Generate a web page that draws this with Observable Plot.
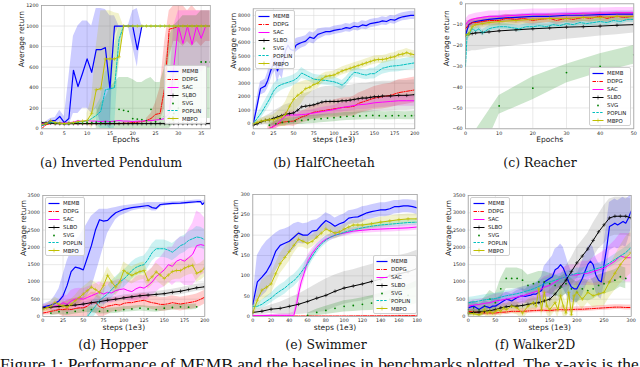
<!DOCTYPE html>
<html><head><meta charset="utf-8">
<script src="https://cdn.jsdelivr.net/npm/d3@7"></script>
<script src="https://cdn.jsdelivr.net/npm/@observablehq/plot@0.6"></script>
<style>
body{margin:0;width:640px;height:367px;overflow:hidden;background:#fff;position:relative;font-family:"DejaVu Sans",sans-serif}
.panel{position:absolute}
.cap{position:absolute;font-family:"DejaVu Serif",serif;font-size:12.5px;line-height:12.5px;transform:translateX(-50%);white-space:nowrap;color:#111}
.fig{position:absolute;left:0;top:356px;font-family:"Liberation Serif",serif;font-size:17.4px;line-height:17.4px;white-space:nowrap;color:#111}
.leg{position:absolute;background:rgba(255,255,255,0.85);border:0.6px solid #cfcfcf;border-radius:2px;box-sizing:border-box;padding-top:1.5px}
.row{height:7.9px;display:flex;align-items:center;font-size:5.4px;color:#222}
.row svg{margin-left:1.5px;margin-right:3.5px;flex:none}
</style>
</head><body>
<script>
// ---------- series names, colours ----------
const NAMES = ["MEMB","DDPG","SAC","SLBO","SVG","POPLIN","MBPO"];
const COLORS = {MEMB:"#0000ff",DDPG:"#ff0000",SAC:"#ff00ff",SLBO:"#000000",SVG:"#008000",POPLIN:"#00bfbf",MBPO:"#bfbf00"};
const DASH = {DDPG:"3.5,1.2,1,1.2",POPLIN:"2.5,1.3"};

// ---------- (a) Inverted Pendulum : [epoch, mean, lo, hi] or [x, mean, spread] ----------
const IP_XTICKS = [0,5,10,15,20,25,30,35];
const IP_YTICKS = [0,200,400,600,800,1000,1200];
const IP_MEMB = [[0,30,20,40],[1,50,30,70],[2,80,50,100],[3,80,40,110],[4,120,70,180],[5,60,30,120],[6,100,30,500],[7,570,150,900],[8,410,150,1000],[9,540,200,1050],[10,680,200,1050],[11,550,150,1000],[12,770,200,1170],[13,770,50,1170],[14,790,50,1160],[15,390,0,1100],[16,1000,900,1100],[17,1000,1000,1000],[18,1000,1000,1000],[19,1000,1000,1000],[20,1000,800,1150],[21,770,600,1170],[22,1000,1000,1000]];
const IP_DDPG = [[0,0],[1,40],[2,50],[3,50],[4,50],[5,50],[6,50],[7,50],[8,50],[9,50],[10,50],[11,50],[12,50],[13,50],[14,50],[15,50],[16,50],[17,50],[18,55],[19,55],[20,60],[21,65],[22,70],[23,80,60,100],[24,100,60,150],[25,140,80,250],[26,150,80,400],[27,400,200,850],[28,970,700,1150],[29,980,850,1200],[30,1000,850,1200],[31,1000,800,1200],[32,1000,850,1150],[33,1000,800,1200],[34,1000,850,1150],[35,1000,800,1150],[36,1000,850,1150],[37,1000,850,1150]];
const IP_SAC = [[0,50],[1,55],[2,55],[3,60],[4,60],[5,55],[6,60],[7,65],[8,80,60,100],[9,70],[10,80],[11,75],[12,75],[13,70],[14,75],[15,70],[16,75],[17,80],[18,75],[19,75],[20,70],[21,75],[22,75],[23,80],[24,80],[25,85],[26,90],[27,100,60,150],[28,150,80,400],[29,600,300,1000],[30,1000,600,1150],[31,830,500,1150],[32,1000,600,1150],[33,820,500,1150],[34,1000,600,1150],[35,880,550,1150],[36,1000,600,1150],[37,1000,600,1150]];
const IP_SLBO = [[0,60,12],[1,55,10],[2,55,10],[3,50,10],[4,50,10],[5,50,10],[6,50,10],[7,50,10],[8,50,10],[9,50,10],[10,50,10],[11,50,10],[12,50,10],[13,50,10],[14,50,10],[15,50,10],[16,50,10],[17,50,10],[18,50,10],[19,50,10],[20,50,10],[21,50,10],[22,50,10],[23,50,10],[24,50,10],[25,50,10],[26,50,10],[27,50,10],[28,50,10],[29,50,10],[30,50,10],[31,50,10],[32,50,10],[33,50,10],[34,50,10],[35,50,10],[36,50,10],[37,50,10]];
const IP_SVG = [[0,40],[1,50],[2,60],[3,55],[4,50],[5,45],[6,50],[7,55],[8,60],[9,55],[10,60],[11,60],[12,65,0,150],[13,60,0,250],[14,70,0,300],[15,65,0,400],[16,70,0,450],[17,190,0,500],[18,180,0,500],[19,170,0,500],[20,100,0,480],[21,95,0,450],[22,90,0,450],[23,80,0,480],[24,190,0,500],[25,70,0,450],[26,100,0,450],[27,120,0,600],[28,110,0,900],[29,150,50,1000],[30,200,100,1050],[31,250,100,1100],[32,300,100,1100],[33,400,100,1100],[34,500,100,1100],[35,650,100,1150],[36,650,100,1150],[37,650,100,1150]];
const IP_POPLIN = [[0,30],[1,50],[2,60],[3,60],[4,55],[5,50],[6,55],[7,60],[8,65],[9,70],[10,75],[11,100,50,150],[12,130,50,220],[13,170,0,300],[14,380,0,550],[15,390,0,600],[16,400,0,800],[17,870,700,1000],[18,1000,1000,1000],[19,1000],[20,1000],[21,1000],[22,1000],[23,1000],[24,1000],[25,1000],[26,1000],[27,1000],[28,1000],[29,1000],[30,1000],[31,1000],[32,1000],[33,1000],[34,1000],[35,1000],[36,1000],[37,1000]];
const IP_MBPO = [[0,40],[1,50],[2,80],[3,60],[4,55],[5,50],[6,55],[7,60],[8,70],[9,75],[10,80,50,150],[11,150,0,300],[12,380,100,800],[13,390,200,1150],[14,680,400,1150],[15,680,400,1150],[16,680,400,1130],[17,700,600,1120],[18,1000,1000,1000],[19,1000],[20,1000],[21,1000],[22,1000],[23,1000],[24,1000],[25,1000],[26,1000],[27,1000],[28,1000],[29,1000],[30,1000],[31,1000],[32,1000],[33,1000],[34,1000],[35,1000],[36,1000],[37,1000]];

// ---------- (b) HalfCheetah ----------
const HC_XTICKS = [0,25,50,75,100,125,150,175,200];
const HC_YTICKS = [0,1000,2000,3000,4000,5000,6000,7000,8000];
const HC_MEMB = [[0,0,200],[3,800,500],[6,1700,600],[9,2600,500],[12,2700,500],[15,2800,500],[18,3200,600],[21,3800,700],[24,4300,700],[27,4600,700],[30,3900,900],[33,4400,800],[36,4200,900],[40,5400,700],[43,5800,600],[46,5500,600],[50,5400,500],[53,5800,500],[56,5900,450],[60,6000,400],[65,6100,400],[70,6400,400],[75,6300,400],[80,6600,400],[85,6700,350],[90,6800,300],[95,6800,300],[100,6900,300],[105,6950,300],[110,7000,300],[115,7100,300],[120,7050,300],[125,7200,300],[130,7150,300],[135,7300,300],[140,7250,300],[145,7400,300],[150,7450,300],[155,7500,300],[160,7600,300],[165,7550,300],[170,7700,300],[175,7650,300],[180,7800,300],[185,7900,300],[190,7950,300],[195,8000,300],[200,8000,300]];
const HC_DDPG = [[18,-380,200],[22,-300,250],[26,-150,300],[30,0,300],[35,100,300],[40,150,350],[45,180,350],[50,200,400],[55,350,400],[60,500,450],[65,600,450],[70,750,500],[75,850,500],[80,900,550],[85,950,550],[90,1000,600],[95,1050,600],[100,1100,650],[110,1200,700],[120,1250,700],[125,1300,750],[130,1500,750],[140,1700,800],[150,1900,850],[160,2000,900],[170,2100,900],[180,2300,950],[190,2400,950],[200,2500,950]];
const HC_SAC = [[20,-380,200],[25,-200,250],[30,0,300],[35,300,300],[40,600,300],[45,650,250],[50,650,250],[55,650,250],[60,680,250],[65,700,250],[70,750,250],[75,800,250],[80,850,300],[90,950,300],[100,1050,300],[110,1200,350],[120,1300,350],[130,1400,350],[140,1450,400],[150,1550,400],[160,1600,400],[170,1650,400],[180,1700,400],[190,1700,400],[200,1700,400]];
const HC_SLBO = [[0,-100,100],[5,0,150],[10,150,250],[15,250,300],[20,300,400],[25,400,500],[30,500,600],[35,600,650],[40,700,700],[45,750,750],[50,800,800],[55,1000,850],[60,1250,900],[65,1300,950],[70,1350,1000],[75,1400,1050],[80,1500,1100],[85,1600,1100],[90,1650,1100],[95,1650,1100],[100,1650,1100],[105,1650,1100],[110,1700,1100],[115,1700,1100],[120,1750,1100],[125,1800,1100],[130,1850,1100],[135,1900,1100],[140,1900,1100],[145,1950,1100],[150,2000,1100],[155,2000,1100],[160,2050,1100],[170,2050,1100],[180,2100,1100],[190,2100,1100],[200,2150,1100]];
const HC_SVG = [[20,-100,200],[28,0,200],[36,100,250],[44,150,250],[52,200,250],[60,250,300],[68,300,300],[76,330,300],[84,380,300],[92,420,300],[100,450,300],[108,500,300],[116,550,300],[124,560,300],[132,580,300],[140,600,300],[148,620,300],[156,600,300],[164,580,300],[172,600,300],[180,610,300],[188,590,300],[196,600,300],[200,620,300]];
const HC_POPLIN = [[0,0,100],[5,400,300],[10,800,400],[15,1300,450],[20,1800,500],[25,2400,500],[30,2750,500],[35,2900,450],[40,3000,400],[45,3100,400],[50,3200,400],[55,3400,400],[60,3750,400],[65,3600,350],[70,3450,350],[75,3300,350],[80,3250,350],[90,3200,350],[100,3100,350],[105,3000,350],[110,2850,350],[115,3100,350],[120,3500,350],[125,3800,350],[130,3750,350],[135,3650,350],[140,3600,350],[145,3700,400],[150,3700,400],[155,3900,400],[160,4100,450],[170,4250,450],[180,4300,450],[190,4400,450],[200,4500,450]];
const HC_MBPO = [[0,0,100],[5,100,150],[10,200,200],[15,250,250],[20,300,300],[25,300,350],[30,400,500],[35,500,700],[40,700,900],[45,1300,1000],[50,1800,1000],[55,2100,900],[60,2300,800],[65,2600,600],[70,2700,500],[75,2900,400],[80,3000,400],[85,3300,350],[90,3500,300],[95,3550,300],[100,3600,300],[105,3750,300],[110,3900,300],[115,4000,300],[120,4100,300],[125,4200,300],[130,4300,300],[135,4400,300],[140,4500,300],[145,4600,300],[150,4700,300],[155,4750,300],[160,4750,300],[165,4800,300],[170,4900,300],[175,4950,300],[180,5100,300],[185,5150,300],[190,5250,300],[195,5150,300],[200,5100,300]];

// ---------- (c) Reacher ----------
const RE_XTICKS = [0,10,20,30,40,50];
const RE_YTICKS = [-60,-50,-40,-30,-20,-10,0];
const RE_MEMB = [[0,-15,2],[1,-10,2],[2,-9,1.5],[3,-8.5,1.5],[5,-8,1.5],[7,-7.5,1.5],[10,-7,1.5],[15,-6.5,1.5],[20,-6,1.5],[25,-6,1.5],[30,-5.5,1.5],[35,-5.5,1.5],[40,-5.2,1.5],[45,-5,1.5],[50,-5,1.5]];
const RE_DDPG = [[0,-12,2],[1,-10,2],[2,-9,2],[3,-9,2],[5,-8.5,2],[7,-8,2],[10,-8,2],[12,-7,2],[15,-7.5,2],[17,-7,2],[20,-8,2],[22,-7.5,2],[25,-7,2],[27,-8,2],[30,-7,2],[32,-7.5,2],[35,-6.5,2],[37,-7,2],[40,-6,2],[42,-7,2],[45,-6,2],[47,-6.5,2],[50,-6,2]];
const RE_SAC = [[0,-10,2.5],[1,-8,2.5],[2,-7.5,2.5],[3,-7,2.5],[5,-6.5,2.5],[7,-6,2.5],[10,-6,2.5],[15,-5.5,2.5],[20,-5,2.5],[25,-5,2.5],[30,-4.8,2.5],[35,-4.5,2.5],[40,-4.5,2.5],[45,-4.3,2.5],[50,-4.3,2.5]];
const RE_SLBO = [[0,-15,-23,-8],[1,-14.5,-23,-8],[2,-14.3,-22.5,-8],[3,-14,-22.5,-8],[5,-13.8,-22,-8],[7,-13.5,-21.5,-8],[10,-13,-21,-7.5],[15,-12.5,-20,-7.5],[20,-12,-19,-7],[25,-11.6,-18,-7],[30,-11.2,-17,-7],[35,-11,-16.3,-6.5],[40,-10.7,-15.5,-6.5],[45,-10.3,-14.8,-6],[50,-10,-14,-6]];
const RE_SVG = [[0,-75,-90,-68],[10,-49,-53,-44],[20,-40.5,-46,-35],[30,-33,-38,-29],[40,-30,-33,-24],[50,-24.5,-29,-20]];
const RE_POPLIN = [[0,-30,2],[0.5,-14,1.5],[1,-15,1.5],[2,-12,1.5],[3,-13,1.5],[4,-12,1.5],[5,-14,1.5],[6,-13,1.5],[7,-12,1.5],[8,-11.5,1.5],[10,-11,1.5],[12,-11,1.5],[14,-11.5,1.5],[16,-12,1.5],[18,-11,1.5],[20,-11,1.5],[22,-10.5,1.5],[24,-11,1.5],[26,-10,1.5],[28,-10.5,1.5],[30,-9.5,1.5],[32,-10,1.5],[34,-9,1.5],[36,-9.5,1.5],[38,-9,1.5],[40,-8.5,1.5],[42,-9,1.5],[44,-8,1.5],[46,-8.5,1.5],[48,-7.5,1.5],[50,-7.5,1.5]];
const RE_MBPO = [[0,-15,2],[1,-14.5,2],[2,-11,2],[3,-10,2],[5,-9.5,2],[7,-9,2],[10,-8.5,2],[15,-8,2],[20,-7.5,2],[25,-7,2],[30,-7,2],[35,-6.5,2],[40,-6.5,2],[45,-6,2],[50,-6,2]];

// ---------- (d) Hopper ----------
const HO_XTICKS = [0,25,50,75,100,125,150,175,200];
const HO_YTICKS = [0,500,1000,1500,2000,2500,3000,3500];
const HO_MEMB = [[0,270,200,350],[5,300,220,400],[10,330,250,450],[15,380,250,600],[20,450,250,800],[25,600,300,1200],[30,900,300,1600],[35,1300,300,1900],[40,1430,350,2200],[45,1400,400,2300],[50,1350,500,2500],[55,1700,600,2700],[60,2050,800,2900],[65,2500,1200,3000],[70,2800,1600,3100],[75,2760,2000,3100],[80,2780,2400,3100],[85,2900,2600,3130],[90,3000,2800,3150],[95,3050,2900,3180],[100,3100,2950,3200],[110,3150,3050,3230],[120,3180,3100,3260],[130,3210,3100,3300],[135,3150,3050,3300],[140,3130,3050,3300],[145,3240,3150,3300],[150,3250,3200,3300],[160,3270,3220,3320],[170,3280,3230,3330],[180,3300,3250,3350],[190,3320,3270,3370],[195,3320,3270,3370],[197,3240,3200,3350],[200,3310,3250,3370]];
const HO_DDPG = [[0,100,60],[5,120,80],[10,150,100],[15,170,120],[20,200,150],[25,200,200],[30,220,250],[35,200,300],[40,230,300],[45,250,300],[50,250,300],[55,300,300],[60,400,300],[65,400,300],[70,280,300],[75,250,250],[80,300,250],[85,320,200],[90,350,200],[95,330,200],[100,380,200],[105,400,200],[110,400,200],[115,430,200],[120,450,200],[125,470,200],[130,430,200],[135,400,200],[140,380,200],[145,350,200],[150,350,200],[155,370,200],[160,400,200],[165,380,200],[170,360,200],[175,380,200],[180,400,200],[185,420,200],[190,450,200],[195,500,200],[200,560,200]];
const HO_SAC = [[0,250,80],[10,280,100],[20,320,150],[25,400,250],[30,350,250],[35,450,300],[40,500,300],[45,520,300],[50,500,300],[55,550,300],[60,600,300],[65,650,300],[70,700,300],[75,650,300],[80,700,300],[85,680,300],[90,750,300],[95,780,300],[100,800,300],[105,750,300],[110,720,300],[115,800,350],[120,850,350],[125,820,350],[130,900,400],[135,1000,400],[140,1150,450],[145,1250,450],[150,1350,500],[155,1500,500],[160,1450,550],[165,1600,600],[170,1650,650],[175,1600,700],[180,1700,800],[185,1800,900],[190,2050,1000],[195,2080,900],[200,2050,800]];
const HO_SLBO = [[0,250,50],[10,270,50],[20,290,50],[30,310,60],[40,330,60],[50,360,60],[60,400,70],[70,430,70],[80,470,70],[90,500,80],[100,540,80],[110,570,80],[120,600,80],[130,620,80],[140,640,80],[150,660,90],[160,700,90],[170,730,100],[180,780,100],[190,830,100],[200,860,100]];
const HO_SVG = [[10,100,80],[20,140,80],[30,110,80],[40,150,80],[50,180,80],[60,200,80],[70,150,80],[80,160,80],[90,170,80],[100,200,80],[110,220,80],[120,240,80],[130,220,80],[140,200,80],[150,240,80],[160,260,80],[170,280,80],[180,270,80],[190,280,80]];
const HO_POPLIN = [[55,0,200],[60,150,250],[65,300,250],[70,460,250],[75,560,250],[80,650,250],[85,780,250],[90,900,250],[95,1000,250],[100,1080,250],[105,1200,250],[110,1330,250],[115,1420,250],[120,1470,250],[125,1500,250],[130,1650,250],[135,1850,250],[140,1960,250],[145,1960,250],[150,1960,250],[155,1920,250],[160,1860,250],[165,1950,250],[170,2050,250],[175,2100,250],[180,2200,250],[185,2250,250],[190,2300,300],[195,2280,300],[200,2220,300]];
const HO_MBPO = [[0,200,80],[5,250,100],[10,300,150],[15,410,150],[20,350,150],[25,300,150],[30,270,150],[35,350,150],[40,460,150],[45,550,200],[50,650,200],[55,750,200],[60,850,200],[65,780,200],[70,700,200],[75,900,250],[80,1190,250],[85,1000,250],[90,850,250],[95,1000,250],[100,1330,250],[105,1250,250],[110,1190,250],[115,1250,250],[120,1300,250],[125,1330,250],[130,1040,250],[135,1150,250],[140,1290,250],[145,1200,250],[150,1100,250],[155,1200,250],[160,1300,250],[165,1330,250],[170,1330,250],[175,1400,250],[180,1450,250],[185,1480,250],[190,1250,250],[195,1300,250],[200,1400,250]];

// ---------- (e) Swimmer ----------
const SW_XTICKS = [0,20,40,60,80,100,120,140,160,180];
const SW_YTICKS = [0,50,100,150,200,250,300];
const SW_MEMB = [[0,30,20,45],[5,85,40,150],[10,97,50,170],[15,110,60,185],[20,130,80,195],[25,160,110,205],[30,175,130,212],[35,180,145,215],[40,185,155,220],[45,195,165,228],[50,205,180,232],[55,200,178,228],[60,200,180,230],[65,210,188,236],[70,212,190,238],[75,225,205,245],[80,236,215,255],[85,230,210,250],[90,222,205,242],[95,228,210,248],[100,232,215,252],[105,242,225,260],[110,244,228,262],[115,245,228,265],[120,250,232,270],[125,255,238,272],[130,258,240,275],[135,260,243,277],[140,262,245,280],[145,262,245,280],[150,265,248,282],[155,270,252,285],[160,270,253,285],[165,272,255,287],[170,272,255,287],[175,270,254,286],[180,267,250,284]];
const SW_DDPG = [[0,1,1],[20,1,1],[40,1,1],[60,1,1],[80,1,1],[100,1,1],[120,1.5,1],[140,1.5,1],[160,2,1],[180,2,1]];
const SW_SAC = [[0,2,2],[10,2,2],[20,3,2],[30,3,3],[40,3,4],[45,3,8],[48,30,15],[50,55,20],[53,85,20],[56,105,20],[60,135,15],[65,155,12],[70,170,10],[75,182,8],[80,190,8],[85,195,8],[90,200,8],[95,203,8],[100,205,8],[110,210,8],[120,212,8],[130,214,8],[140,215,8],[150,216,8],[160,217,8],[170,218,8],[180,220,8]];
const SW_SLBO = [[0,10,5],[10,13,8],[20,18,10],[30,20,15],[40,25,20],[50,30,25],[60,37,30],[70,45,35],[80,52,40],[90,62,40],[100,70,40],[110,75,40],[120,80,42],[130,86,42],[140,92,44],[150,100,45],[160,105,45],[170,110,45],[180,118,45]];
const SW_SVG = [[60,3,5],[70,10,8],[80,15,10],[90,20,12],[100,25,14],[110,27,15],[120,30,16],[130,33,18],[140,37,20],[150,42,22],[160,47,24],[170,52,26],[180,60,28]];
const SW_POPLIN = [[0,25,8],[5,25,8],[10,30,10],[15,38,12],[20,45,12],[25,55,14],[30,63,15],[35,70,15],[40,80,15],[45,88,15],[50,100,15],[55,115,15],[60,130,15],[65,148,12],[70,165,12],[75,178,10],[80,188,10],[85,195,8],[90,200,8],[95,203,8],[100,207,8],[110,213,8],[120,218,8],[130,222,8],[140,225,8],[150,227,8],[160,229,8],[170,231,8],[180,232,8]];
const SW_MBPO = [[0,10,10],[5,40,20],[10,65,25],[15,72,25],[20,80,25],[25,105,25],[30,130,25],[35,145,25],[40,160,25],[45,175,20],[50,190,20],[55,185,15],[60,180,15],[65,185,15],[70,195,15],[75,205,15],[80,215,15],[85,210,15],[90,205,15],[95,208,12],[100,215,12],[105,220,12],[110,225,12],[115,225,12],[120,225,12],[130,228,12],[140,232,12],[150,235,12],[160,238,12],[170,240,12],[180,240,12]];

// ---------- (f) Walker2D ----------
const WA_XTICKS = [0,50,100,150,200,250,300];
const WA_YTICKS = [0,500,1000,1500,2000,2500,3000,3500];
const WA_MEMB = [[0,250,150],[5,280,150],[10,300,150],[15,250,150],[20,200,150],[25,250,150],[30,300,150],[35,280,150],[40,250,150],[45,300,200],[50,300,200],[55,350,200],[60,400,200],[65,450,200],[70,500,200],[75,480,200],[80,450,200],[85,500,200],[90,550,200],[95,580,200],[100,600,200],[105,580,200],[110,600,250],[115,620,250],[120,650,250],[125,650,300],[130,700,350],[135,750,400],[140,1000,450],[145,1050,500],[150,1100,550],[155,1150,600],[160,1350,600],[165,1400,600],[170,1500,600],[175,1400,600],[180,1200,550],[185,1000,500],[190,850,450],[195,800,400],[200,800,400],[205,950,450],[210,1100,500],[215,1300,500],[220,1500,500],[225,1600,500],[230,1500,500],[235,1200,500],[240,1050,500],[245,1000,500],[250,1500,600],[255,2000,700],[260,2600,700],[265,2650,700],[270,2700,700],[275,2650,700],[280,2700,700],[285,2750,700],[290,2700,700],[295,2850,600],[300,3050,500]];
const WA_DDPG = [[0,150,70],[10,130,70],[20,120,70],[30,100,70],[40,100,70],[50,100,70],[60,120,70],[70,130,70],[80,150,70],[90,150,70],[100,150,70],[110,160,70],[120,170,70],[130,180,70],[140,180,70],[150,170,70],[160,190,70],[170,200,70],[180,190,70],[190,200,70],[200,210,70],[210,210,70],[220,220,70],[230,230,70],[240,240,70],[250,250,70],[260,260,70],[270,270,70],[280,270,70],[290,260,70],[300,260,70]];
const WA_SAC = [[0,300,150],[10,330,150],[20,350,150],[30,380,150],[40,400,200],[50,450,200],[60,470,200],[70,500,200],[80,530,200],[90,560,250],[100,600,250],[110,650,250],[120,700,250],[130,750,250],[140,850,300],[150,900,300],[160,1000,300],[170,1100,300],[180,1150,300],[190,1200,300],[200,1200,300],[210,1250,350],[220,1250,350],[230,1300,400],[240,1350,450],[250,1400,500],[260,1500,550],[270,1600,600],[280,1750,650],[290,1700,700],[300,1700,700]];
const WA_SLBO = [[0,100,80],[10,120,80],[20,130,80],[30,150,80],[40,170,80],[50,200,100],[60,250,100],[70,280,100],[80,300,100],[90,300,100],[100,320,120],[110,350,120],[120,380,150],[130,400,150],[140,450,200],[150,500,250],[160,650,300],[170,850,350],[180,1050,400],[190,1300,400],[200,1550,450],[210,1750,450],[220,1950,450],[230,2200,500],[240,2450,500],[250,2650,550],[260,2850,550],[270,2900,550],[280,2900,550],[290,2900,550],[300,2850,550]];
const WA_SVG = [[0,200,200],[10,250,200],[20,200,200],[30,300,250],[40,500,250],[50,400,250],[60,800,300],[70,1100,300],[80,1100,300],[90,1100,300],[100,1050,300],[110,900,300],[120,950,300],[130,1000,300],[140,1000,300],[150,950,300],[160,900,300],[170,850,300],[180,950,300],[190,800,300],[200,700,300],[210,800,300],[220,750,300],[230,800,300],[240,900,300],[250,950,300],[260,1000,300],[270,1050,300],[280,1150,300],[290,1100,300]];
const WA_POPLIN = [[0,400,150],[10,420,150],[20,450,150],[30,480,150],[40,500,150],[50,520,150],[60,560,150],[70,600,150],[80,630,150],[90,660,150],[100,700,150],[110,750,150],[120,800,150],[130,870,150],[140,950,150],[150,1000,150],[160,1050,150],[170,1100,150],[180,1150,150],[190,1200,150],[200,1250,150],[210,1250,150],[220,1300,150],[230,1350,150],[240,1400,150],[250,1450,150],[260,1550,150],[270,1650,150],[280,1750,150],[290,1850,150],[300,2000,150]];
const WA_MBPO = [[0,100,100],[10,80,100],[20,50,100],[25,100,100],[30,200,150],[35,100,150],[40,150,150],[45,100,150],[50,150,150],[55,200,150],[60,150,150],[65,250,150],[70,200,150],[80,300,200],[90,250,200],[100,100,200],[110,300,200],[120,400,200],[125,300,200],[130,800,250],[135,200,250],[140,700,250],[145,300,250],[150,200,250],[160,400,250],[165,200,250],[170,600,300],[175,300,300],[180,100,300],[185,700,300],[190,50,300],[195,600,300],[200,700,300],[210,500,300],[220,700,300],[230,600,350],[240,650,350],[250,700,400],[260,1000,450],[270,1250,500],[280,1500,550],[290,1700,600],[300,1850,600]];

// ---------- text ----------
const CAPTIONS = ["(a) Inverted Pendulum","(b) HalfCheetah","(c) Reacher","(d) Hopper","(e) Swimmer","(f) Walker2D"];
const FIG_TEXT = "Figure 1:  Performance of MEMB and the baselines in benchmarks plotted.  The x-axis is the";

// ---------- layout ----------
const PANELS = [
 {left:0,top:0,width:213,height:150,mt:5,mb:21.7,ml:41,mr:3.2,xd:[0,37],yd:[0,1200],xt:IP_XTICKS,yt:IP_YTICKS,xl:"Epochs",xdy:13.5,ydx:-20,
  S:{MEMB:IP_MEMB,DDPG:IP_DDPG,SAC:IP_SAC,SLBO:IP_SLBO,SVG:IP_SVG,POPLIN:IP_POPLIN,MBPO:IP_MBPO},cap:[111,157],leg:[164,65,43]},
 {left:213,top:0,width:209,height:150,mt:8.3,mb:21.7,ml:39.7,mr:7.7,xd:[0,200],yd:[-370,8490],xt:HC_XTICKS,yt:HC_YTICKS,xl:"steps (1e3)",xdy:13.5,ydx:-20,
  S:{MEMB:HC_MEMB,DDPG:HC_DDPG,SAC:HC_SAC,SLBO:HC_SLBO,SVG:HC_SVG,POPLIN:HC_POPLIN,MBPO:HC_MBPO},cap:[324,157],leg:[255,10,40]},
 {left:422,top:0,width:218,height:150,mt:3.3,mb:21.7,ml:43,mr:6.7,xd:[0,50],yd:[-60,0],xt:RE_XTICKS,yt:RE_YTICKS,xl:"Epochs",xdy:13.5,ydx:-18.5,
  S:{MEMB:RE_MEMB,DDPG:RE_DDPG,SAC:RE_SAC,SLBO:RE_SLBO,SVG:RE_SVG,POPLIN:RE_POPLIN,MBPO:RE_MBPO},cap:[540,157],leg:[589,67,42]},
 {left:0,top:185,width:213,height:150,mt:10,mb:19,ml:42.3,mr:8.7,xd:[0,200],yd:[0,3500],xt:HO_XTICKS,yt:HO_YTICKS,xl:"steps (1e3)",xdy:13,ydx:-19.5,
  S:{MEMB:HO_MEMB,DDPG:HO_DDPG,SAC:HO_SAC,SLBO:HO_SLBO,SVG:HO_SVG,POPLIN:HO_POPLIN,MBPO:HO_MBPO},cap:[113,339],leg:[45,197,40]},
 {left:213,top:185,width:209,height:150,mt:9,mb:19,ml:39.3,mr:5.3,xd:[0,180],yd:[0,300],xt:SW_XTICKS,yt:SW_YTICKS,xl:"steps (1e3)",xdy:13,ydx:-17.5,
  S:{MEMB:SW_MEMB,DDPG:SW_DDPG,SAC:SW_SAC,SLBO:SW_SLBO,SVG:SW_SVG,POPLIN:SW_POPLIN,MBPO:SW_MBPO},cap:[326,339],leg:[373,255,44]},
 {left:422,top:185,width:218,height:150,mt:10,mb:19,ml:45.7,mr:9.3,xd:[0,300],yd:[0,3500],xt:WA_XTICKS,yt:WA_YTICKS,xl:"steps (1e3)",xdy:13,ydx:-20,
  S:{MEMB:WA_MEMB,DDPG:WA_DDPG,SAC:WA_SAC,SLBO:WA_SLBO,SVG:WA_SVG,POPLIN:WA_POPLIN,MBPO:WA_MBPO},cap:[535,339],leg:[470,197,40]}
];

const lo = r => r.length === 4 ? r[2] : r.length === 3 ? r[1] - r[2] : NaN;
const hi = r => r.length === 4 ? r[3] : r.length === 3 ? r[1] + r[2] : NaN;
const X = r => r[0], Y = r => r[1];
const fmt = d3.format("d");

function build(p) {
  const marks = [
    Plot.gridX({ticks: p.xt, stroke: "#dadada", strokeOpacity: 1, strokeWidth: 0.6}),
    Plot.gridY({ticks: p.yt, stroke: "#dadada", strokeOpacity: 1, strokeWidth: 0.6})
  ];
  for (const n of NAMES) {
    marks.push(Plot.areaY(p.S[n], {x: X, y1: lo, y2: hi, fill: n === "SLBO" ? "#707070" : COLORS[n], fillOpacity: 0.2, clip: true}));
  }
  for (const n of NAMES) {
    const d = p.S[n];
    if (n !== "SVG") marks.push(Plot.line(d, {x: X, y: Y, stroke: COLORS[n], strokeWidth: n === "MEMB" ? 1.2 : 1, strokeDasharray: DASH[n], clip: true}));
    if (n === "SLBO" || n === "MBPO") marks.push(Plot.dot(d, {x: X, y: Y, symbol: "plus", r: 1.25, stroke: COLORS[n], strokeWidth: 0.6, clip: true}));
    if (n === "SVG") marks.push(Plot.dot(d, {x: X, y: Y, r: 0.9, fill: COLORS[n], stroke: null, clip: true}));
  }
  marks.push(Plot.frame({stroke: "#9a9a9a", strokeWidth: 0.7}));
  marks.push(Plot.axisX({ticks: p.xt, tickSize: 0, tickPadding: 2.5, fontSize: 4.8, tickFormat: fmt, label: null}));
  marks.push(Plot.axisY({ticks: p.yt, tickSize: 0, tickPadding: 3, fontSize: 4.8, tickFormat: fmt, label: null}));
  marks.push(Plot.text([p.xl], {text: d => d, frameAnchor: "bottom", dy: p.xdy, fontSize: 7.5}));
  marks.push(Plot.text(["Average return"], {text: d => d, frameAnchor: "left", dx: p.ydx, rotate: -90, fontSize: 7.5}));
  return Plot.plot({
    width: p.width, height: p.height,
    marginTop: p.mt, marginBottom: p.mb, marginLeft: p.ml, marginRight: p.mr,
    x: {domain: p.xd}, y: {domain: p.yd},
    style: {fontFamily: "DejaVu Sans", fontSize: "4.8px", color: "#222", background: "transparent", overflow: "visible"},
    marks
  });
}

function legend(p) {
  const box = document.createElement("div");
  box.className = "leg";
  Object.assign(box.style, {left: p.leg[0] + "px", top: p.leg[1] + "px", width: p.leg[2] + "px", height: "59px"});
  for (const n of NAMES) {
    const row = document.createElement("div");
    row.className = "row";
    const svg = d3.create("svg").attr("width", 12).attr("height", 5);
    if (n !== "SVG") svg.append("line").attr("x1", 0.5).attr("x2", 11.5).attr("y1", 2.5).attr("y2", 2.5)
      .attr("stroke", COLORS[n]).attr("stroke-width", n === "MEMB" ? 1.2 : 1).attr("stroke-dasharray", DASH[n] || null);
    if (n === "SLBO" || n === "MBPO") svg.append("path").attr("d", "M4,2.5H8M6,0.5V4.5").attr("stroke", COLORS[n]).attr("stroke-width", 0.6);
    if (n === "SVG") svg.append("circle").attr("cx", 6).attr("cy", 2.5).attr("r", 0.9).attr("fill", COLORS[n]);
    row.appendChild(svg.node());
    const t = document.createElement("span");
    t.textContent = n;
    row.appendChild(t);
    box.appendChild(row);
  }
  document.body.appendChild(box);
}

PANELS.forEach((p, i) => {
  const div = document.createElement("div");
  div.className = "panel";
  div.style.left = p.left + "px";
  div.style.top = p.top + "px";
  div.appendChild(build(p));
  document.body.appendChild(div);
  legend(p);
  const c = document.createElement("div");
  c.className = "cap";
  c.style.left = p.cap[0] + "px";
  c.style.top = p.cap[1] + "px";
  c.textContent = CAPTIONS[i];
  document.body.appendChild(c);
});
const f = document.createElement("div");
f.className = "fig";
f.textContent = FIG_TEXT;
document.body.appendChild(f);
</script>
</body></html>
